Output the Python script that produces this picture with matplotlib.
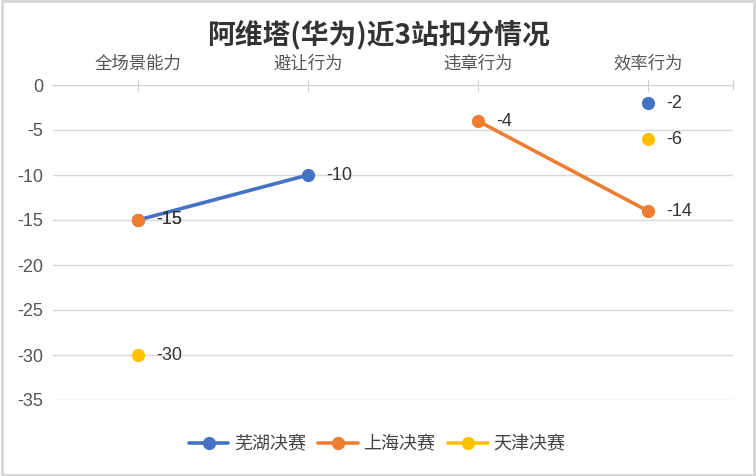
import matplotlib
matplotlib.use("Agg")
import matplotlib.pyplot as plt
import numpy as np

plt.rcParams['font.family'] = ['Noto Sans CJK SC', 'DejaVu Sans']

categories = ["全场景能力", "避让行为", "违章行为", "效率行为"]
series_names = ["芜湖决赛", "上海决赛", "天津决赛"]
wuhu = [-15, -10, None, -2]
mid = [-15, None, -4, -14]
tianjin = [-30, None, None, -6]
colors = ["#4472C4", "#ED7D31", "#FFC000"]
yticks = [0, -5, -10, -15, -20, -25, -30, -35]

NUMFONT = ['Liberation Sans', 'DejaVu Sans']

fig = plt.figure(figsize=(7.56, 4.76), dpi=100)
ax = fig.add_axes([53/756, 1-400/476, 680/756, 315/476])

x = np.arange(len(categories))
for name, vals, c in zip(series_names, [wuhu, mid, tianjin], colors):
    y = np.array([np.nan if v is None else v for v in vals], dtype=float)
    ax.plot(x, y, color=c, lw=2.6, marker='o', markersize=8.5, label=name,
            solid_capstyle='round', zorder=3)
    for xi, v in zip(x, vals):
        if v is not None:
            ax.annotate(str(v), (xi, v), xytext=(13, 0), textcoords='offset points',
                        va='center', ha='left', fontsize=13, color='#333333',
                        family=NUMFONT, zorder=4)

ax.set_xlim(-0.5, 3.5)
ax.set_ylim(-35, 0)
ax.set_yticks(yticks)
ax.set_yticklabels([str(t) for t in yticks], fontsize=13, color='#555555', family=NUMFONT)
ax.yaxis.grid(True, color='#d9d9d9', lw=1)
ax.set_axisbelow(True)
ax.tick_params(axis='y', length=0, pad=7)

ax.xaxis.tick_top()
ax.set_xticks(x)
ax.set_xticklabels(categories, fontsize=12.5, color='#555555')
ax.tick_params(axis='x', which='major', direction='inout', length=8, color='#d0d0d0', pad=5)

for s in ['left', 'right', 'bottom']:
    ax.spines[s].set_visible(False)
ax.spines['top'].set_color('#d0d0d0')
ax.axvline(3.5, ymin=1-0.012, ymax=1.012, color='#d0d0d0', lw=1, clip_on=False)

fig.text(0.5, 1-35/476, "阿维塔(华为)近3站扣分情况", ha='center', va='center',
         fontsize=20, fontweight='bold', color='#333333')

leg = fig.legend(loc='center', bbox_to_anchor=(377/756, 1-444/476), ncol=3, frameon=False,
                 fontsize=13, handlelength=2.2, columnspacing=0.7, handletextpad=0.3)
for t in leg.get_texts():
    t.set_color('#444444')

# outer frame
fig.patches.append(plt.Rectangle((0.002, 0.003), 0.995, 0.994, transform=fig.transFigure,
                                 fill=False, edgecolor='#d6d6d6', lw=2))

fig.savefig("out.png", dpi=100)
